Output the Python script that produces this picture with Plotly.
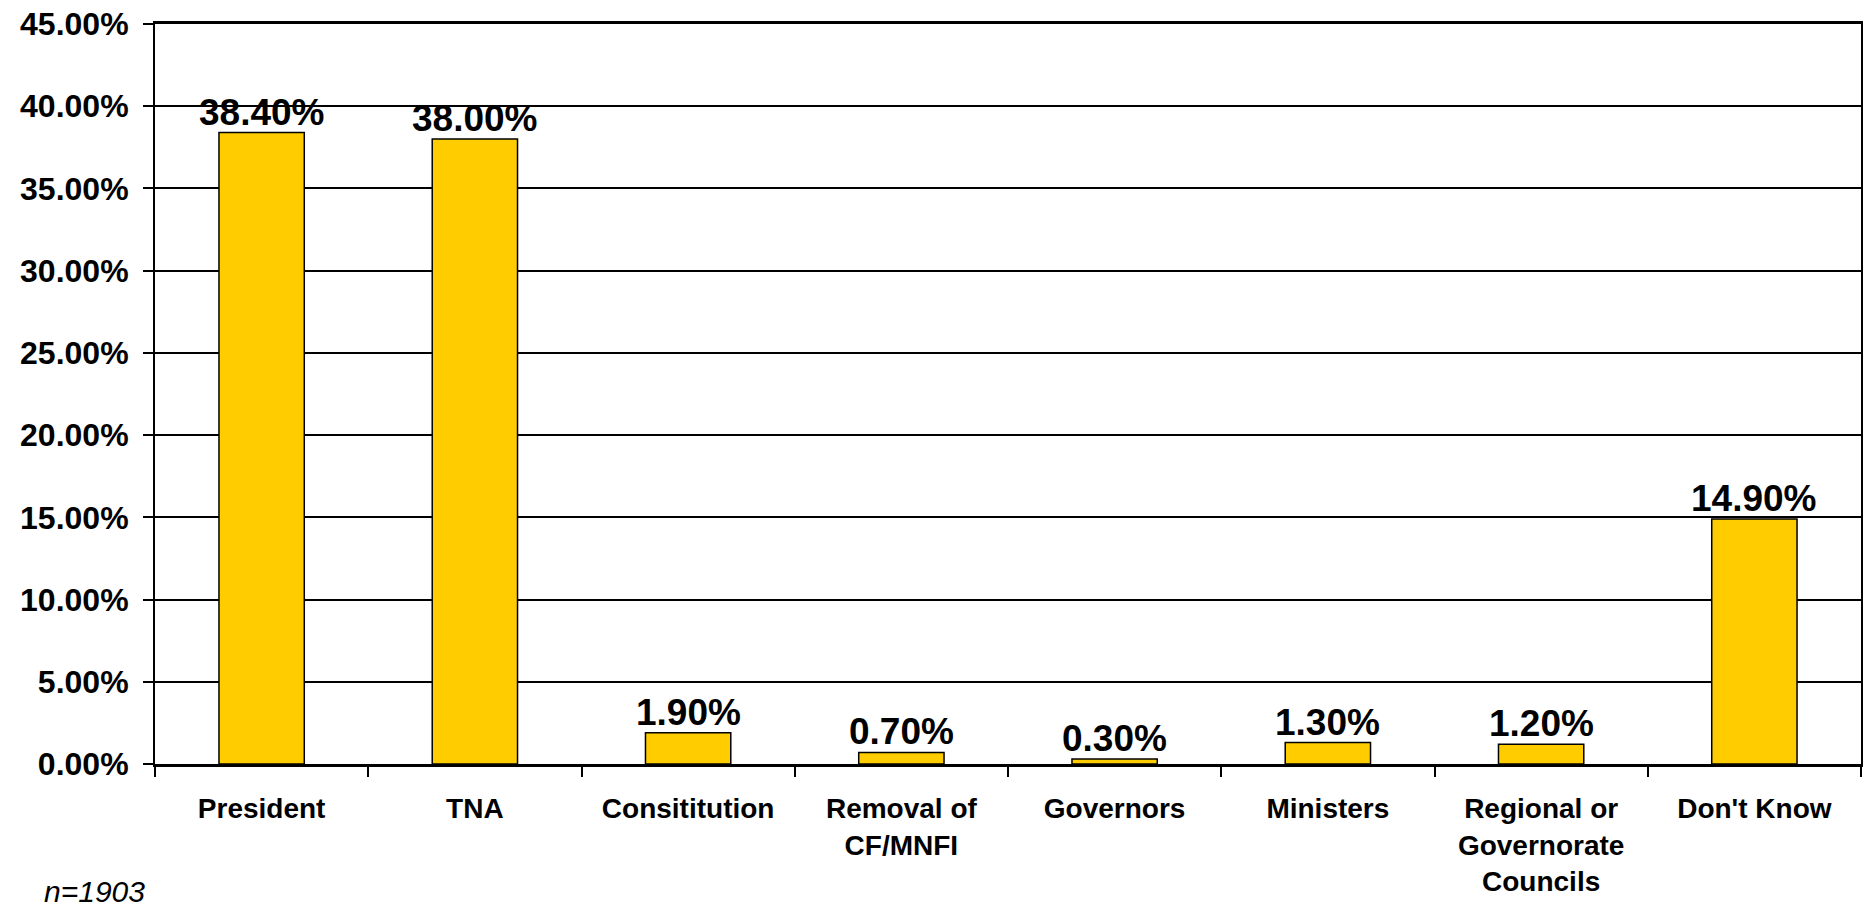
import plotly.graph_objects as go

categories = ["President", "TNA", "Consititution", "Removal of<br>CF/MNFI", "Governors",
              "Ministers", "Regional or<br>Governorate<br>Councils", "Don't Know"]
values = [0.384, 0.380, 0.019, 0.007, 0.003, 0.013, 0.012, 0.149]
y_ticks = [0, 0.05, 0.10, 0.15, 0.20, 0.25, 0.30, 0.35, 0.40, 0.45]
note = "n=1903"

FONT = "Liberation Sans, Arial, sans-serif"

fig = go.Figure(go.Bar(
    x=categories, y=values,
    marker=dict(color="#FFCC00", line=dict(color="#000000", width=1.5)),
    cliponaxis=False,
))

# value labels sitting just above each bar
for cat, val in zip(categories, values):
    fig.add_annotation(
        x=cat, y=val, text=f"{val:.2%}", showarrow=False,
        xanchor="center", yanchor="bottom", yshift=-2,
        font=dict(family=FONT, size=37, color="#000000", weight="bold"),
    )

fig.update_layout(
    width=1867, height=907,
    margin=dict(l=155, r=4, t=24, b=143),
    paper_bgcolor="white", plot_bgcolor="white",
    bargap=0.6, showlegend=False,
    font=dict(family=FONT, color="#000000"),
)
fig.update_yaxes(
    range=[0, 0.45], tickvals=y_ticks, tickformat=".2%",
    showgrid=True, gridcolor="#000000", gridwidth=1.5,
    showline=True, linecolor="#000000", linewidth=2, mirror=True,
    ticks="outside", ticklen=10, tickcolor="#000000", tickwidth=1.5,
    tickfont=dict(family=FONT, size=32, color="#000000", weight="bold"),
    ticklabelstandoff=8, zeroline=False,
)
fig.update_xaxes(
    showline=True, linecolor="#000000", linewidth=2.5, mirror=True,
    ticks="outside", ticklen=10, tickcolor="#000000", tickwidth=1.5,
    tickson="boundaries",
    tickfont=dict(family=FONT, size=28, color="#000000", weight="bold"),
    ticklabelstandoff=18, tickangle=0,
)
fig.add_annotation(
    text=note, xref="paper", yref="paper", x=-0.066, y=-0.147,
    xanchor="left", yanchor="top", showarrow=False,
    font=dict(family=FONT, size=30, color="#000000", style="italic"),
)
fig.write_html(
    "out.html",
    config={"displayModeBar": False},
    post_script="document.body.style.margin='0';document.body.style.overflow='hidden';",
)
